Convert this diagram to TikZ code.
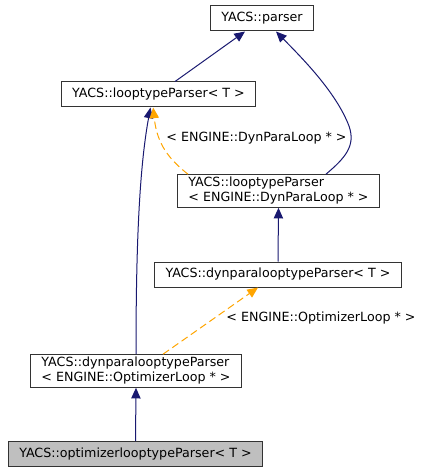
\documentclass[tikz,border=0pt]{standalone}
\usepackage{fontspec}
\setmainfont{DejaVu Sans}
\usetikzlibrary{arrows.meta}
\definecolor{edgeblue}{RGB}{25,25,112}
\definecolor{edgeorange}{RGB}{255,165,0}

\begin{document}
\begin{tikzpicture}[
        x=0.75pt, y=-0.75pt,
        >={Triangle[length=8pt,width=7pt]},
        cls/.style={draw=black!80, rectangle, fill=white, line width=0.75pt, align=left,
            font=\fontsize{9.5}{11.25}\selectfont, inner xsep=8pt, inner ysep=2pt, minimum height=18.75pt},
        current/.style={cls, fill=black!25},
        inherit/.style={->, draw=edgeblue, line width=0.75pt},
        templ/.style={->, draw=edgeorange, line width=0.75pt, dash pattern=on 5.5pt off 3pt},
        tlabel/.style={font=\fontsize{9.5}{11.25}\selectfont, inner sep=0pt}
    ]
        \useasboundingbox (0,0) rectangle (424,473);

        % Classes
        \node (parser) [cls] at (262,18.5) {YACS::parser};
        \node (looptype) [cls] at (158.5,94.5) {YACS::looptypeParser< T >};
        \node (looptypedyn) [cls] at (278.5,191) {YACS::looptypeParser\\< ENGINE::DynParaLoop * >};
        \node (dynpara) [cls] at (278,274.5) {YACS::dynparalooptypeParser< T >};
        \node (dynparaopt) [cls] at (136,371) {YACS::dynparalooptypeParser\\< ENGINE::OptimizerLoop * >};
        \node (optimizer) [current] at (135.5,454) {YACS::optimizerlooptypeParser< T >};

        % Inheritance
        \draw[inherit] ([xshift=12.4pt]looptype.north) -- ([xshift=-12.75pt]parser.south);
        \draw[inherit] ([xshift=35.6pt]looptypedyn.north)
            .. controls (345,158) and (356,146) .. (349,126)
            .. controls (336,92) and (302,58) .. ([xshift=10.5pt]parser.south);
        \draw[inherit] (dynparaopt.north)
            .. controls (136,250) and (139,170) .. ([xshift=-6pt]looptype.south);
        \draw[inherit] (dynpara.north) -- (looptypedyn.south);
        \draw[inherit] (optimizer.north) -- (dynparaopt.south);

        % Template instances
        \draw[templ] ([xshift=-67.9pt]looptypedyn.north)
            .. controls (170,160) and (157,145) .. ([xshift=-4pt]looptype.south);
        \node[tlabel] (dynlabel) at (256.5,138) {< ENGINE::DynParaLoop * >};
        \draw[templ] ([xshift=20.25pt]dynparaopt.north) -- ([xshift=-15pt]dynpara.south);
        \node[tlabel] (optlabel) at (321,318) {< ENGINE::OptimizerLoop * >};

    \end{tikzpicture}
\end{document}
